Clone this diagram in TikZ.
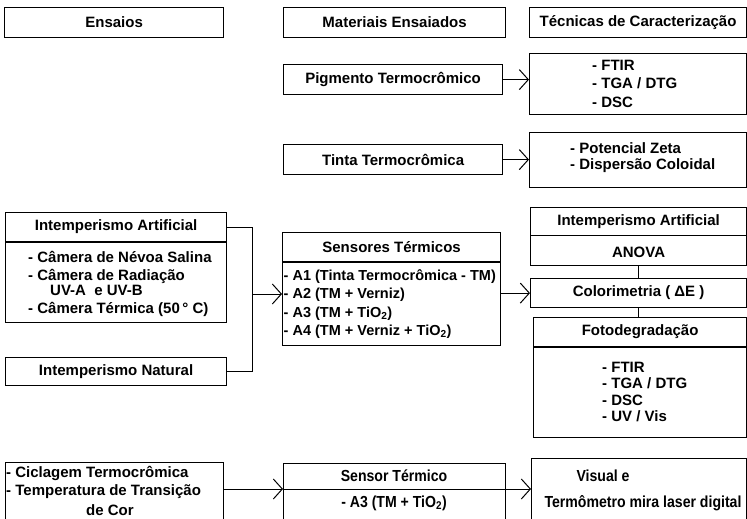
\documentclass[tikz,border=0pt]{standalone}
\usepackage{fontspec}
\setmainfont{Liberation Sans}
\newfontfamily\narrowf{Liberation Sans}[FakeStretch=0.88]
\usetikzlibrary{arrows.meta}
\begin{document}
\begin{tikzpicture}[x=1pt,y=-1pt,
  font=\fontsize{15}{18}\selectfont\bfseries,
  box/.style={draw=black, line width=1.2pt, inner sep=0pt, anchor=north west},
  lbl/.style={inner sep=0pt, anchor=center},
  lst/.style={inner sep=0pt, anchor=west},
  sml/.style={font=\fontsize{14.5}{17}\selectfont\bfseries},
  nar/.style={font=\fontsize{16}{19}\selectfont\narrowf\bfseries},
  conn/.style={line width=1pt},
  arr/.style={conn, -{Straight Barb[length=9pt,width=20pt,line width=1pt]}},
  div/.style={line width=1.8pt}]
\useasboundingbox (0,0) rectangle (747,519);

% headers
\node[box, minimum width=219pt, minimum height=30pt] (hEns) at (4,7) {Ensaios};
\node[box, minimum width=222pt, minimum height=30pt] (hMat) at (283,7) {Materiais Ensaiados};
\node[box, minimum width=217pt, minimum height=30pt] (hTec) at (529,7) {Técnicas de Caracterização};

% pigmento
\node[box, minimum width=219pt, minimum height=30pt] (pig) at (283,64) {Pigmento Termocrômico};
\node[box, minimum width=217pt, minimum height=61pt] (tec1) at (529,53) {};
\node[lst] (t1a) at (592,65) {- FTIR};
\node[lst] (t1b) at (592,83) {- TGA / DTG};
\node[lst] (t1c) at (592,102) {- DSC};

% tinta
\node[box, minimum width=219pt, minimum height=30pt] (tinta) at (283,144) {Tinta Termocrômica};
\node[box, minimum width=217pt, minimum height=55pt] (tec2) at (529,132) {};
\node[lst] (t2a) at (570,148) {- Potencial Zeta};
\node[lst] (t2b) at (570,166) {- Dispersão Coloidal};

% intemperismo artificial (left)
\node[box, minimum width=221pt, minimum height=110pt] (ia) at (5,212) {};
\draw[div] ([yshift=-30pt]ia.north west) -- ([yshift=-30pt]ia.north east);
\node[lbl] (iaT) at ([yshift=-15pt]ia.north) {Intemperismo Artificial};
\node[lst] (ia1) at (28,257) {- Câmera de Névoa Salina};
\node[lst] (ia2) at (28,276) {- Câmera de Radiação};
\node[lst] (ia3) at (50,290) {UV-A\ \ e UV-B};
\node[lst] (ia4) at (28,309) {- Câmera Térmica (50\,° C)};

\node[box, minimum width=221pt, minimum height=28pt] (inat) at (5,357) {Intemperismo Natural};

% sensores
\node[box, minimum width=218pt, minimum height=113pt] (sens) at (282,232) {};
\draw[div] ([yshift=-30pt]sens.north west) -- ([yshift=-30pt]sens.north east);
\node[lbl] (sensT) at ([yshift=-15pt]sens.north) {Sensores Térmicos};
\node[lst, sml] (s1) at (283.5,277) {- A1 (Tinta Termocrômica - TM)};
\node[lst, sml] (s2) at (283.5,295) {- A2 (TM + Verniz)};
\node[lst, sml] (s3) at (283.5,314) {- A3 (TM + TiO\textsubscript{2})};
\node[lst, sml] (s4) at (283.5,332) {- A4 (TM + Verniz + TiO\textsubscript{2})};

% right column
\node[box, minimum width=216pt, minimum height=58pt] (iaR) at (530,207) {};
\draw[conn] ([yshift=-28pt]iaR.north west) -- ([yshift=-28pt]iaR.north east);
\node[lbl] (iaRT) at ([yshift=-15pt]iaR.north) {Intemperismo Artificial};
\node[lbl] (anova) at ([yshift=-45pt]iaR.north) {ANOVA};

\node[box, minimum width=216pt, minimum height=29pt] (color) at (530,278) {Colorimetria ( ΔE )};

\node[box, minimum width=213pt, minimum height=120pt] (foto) at (533,317) {};
\draw[div] ([yshift=-30pt]foto.north west) -- ([yshift=-30pt]foto.north east);
\node[lbl] (fotoT) at ([yshift=-15pt]foto.north) {Fotodegradação};
\node[lst] (f1) at (602,367) {- FTIR};
\node[lst] (f2) at (602,383) {- TGA / DTG};
\node[lst] (f3) at (602,400) {- DSC};
\node[lst] (f4) at (602,416) {- UV / Vis};

% bottom row
\node[box, minimum width=218pt, minimum height=70pt] (cicl) at (5,462) {};
\node[lst] (c1) at (6,473) {- Ciclagem Termocrômica};
\node[lst] (c2) at (6,492) {- Temperatura de Transição};
\node[lbl] (c3) at (110,510) {de Cor};

\node[box, minimum width=222pt, minimum height=70pt] (sensB) at (283,463) {};
\node[lbl, nar] (sbT) at (394,476) {Sensor Térmico};
\node[lbl, nar] (sbA) at (394,503) {- A3 (TM + TiO\textsubscript{2})};

\node[box, minimum width=215pt, minimum height=75pt] (vis) at (531,458) {};
\node[lbl, nar] (v1) at (603,476) {Visual e};
\node[lbl, nar] (v2) at (643,503) {Termômetro mira laser digital};

% connectors
\draw[arr] (pig.east) -- (pig.east -| tec1.west);
\draw[arr] (tinta.east) -- (tinta.east -| tec2.west);

\coordinate (j1) at (252,227);
\coordinate (j2) at (252,371);
\coordinate (jm) at (252,294);
\draw[conn] (ia.east |- j1) -- (j1) -- (j2) -- (inat.east |- j2);
\draw[arr] (jm) -- (jm -| sens.west);
\draw[arr] (sens.east |- color.west) -- (color.west);
\draw[conn] (iaR.south) -- (color.north);
\draw[conn] (color.south) -- (color.south |- foto.north);

\coordinate (bl) at (0,489);
\draw[arr] (cicl.east |- bl) -- (sensB.west |- bl);
\draw[conn] (sensB.west |- bl) -- (sensB.east |- bl);
\draw[arr] (sensB.east |- bl) -- (vis.west |- bl);
\end{tikzpicture}
\end{document}
